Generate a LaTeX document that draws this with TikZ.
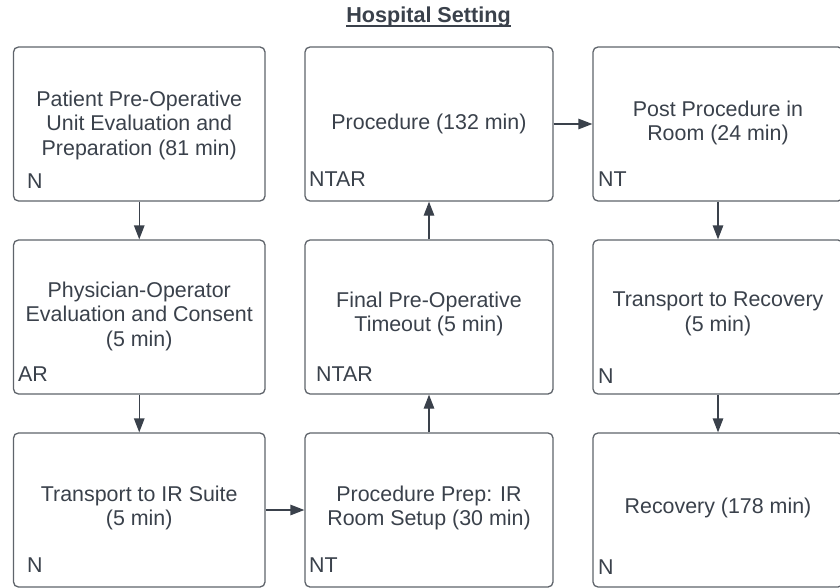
\documentclass[tikz,border=0pt]{standalone}
\usepackage{fontspec}
\setmainfont{Liberation Sans}
\usetikzlibrary{arrows.meta}
\definecolor{ink}{HTML}{3A414B}
\definecolor{edge}{HTML}{5F646B}
\begin{document}
\begin{tikzpicture}[x=1pt,y=-1pt,
  stage/.style={draw=edge, line width=1.3pt, rounded corners=5pt},
  body/.style={text=ink, align=center, font=\fontsize{21.4}{24.5}\selectfont, inner sep=0pt},
  tag/.style={text=ink, anchor=base west, font=\fontsize{21.4}{24.5}\selectfont, inner sep=0pt},
  flow/.style={draw=ink, line width=1.3pt, -{Triangle[length=14pt,width=10.5pt]}}]
\useasboundingbox (0,0) rectangle (840,588);
\fill[white] (0,0) rectangle (840,588);

% title, underlined with a slightly heavier rule
\node[text=ink, font=\bfseries\fontsize{21.6}{24}\selectfont, anchor=base, inner sep=0pt] (title) at (428.5,23) {Hospital Setting};
\draw[ink, line width=1.6pt] ([yshift=-3pt]title.base west) -- ([yshift=-3pt]title.base east);

% boxes: columns at x = 13.5..265, 305..553, 593..843; rows at y = 47..201, 240..394, 433..587
\node[stage, minimum width=251.5pt, minimum height=154pt, inner sep=0pt] (b11) at (139.25,124) {};
\node[stage, minimum width=248pt, minimum height=154pt, inner sep=0pt] (b12) at (429,124) {};
\node[stage, minimum width=250pt, minimum height=154pt, inner sep=0pt] (b13) at (718,124) {};
\node[stage, minimum width=251.5pt, minimum height=154pt, inner sep=0pt] (b21) at (139.25,317) {};
\node[stage, minimum width=248pt, minimum height=154pt, inner sep=0pt] (b22) at (429,317) {};
\node[stage, minimum width=250pt, minimum height=154pt, inner sep=0pt] (b23) at (718,317) {};
\node[stage, minimum width=251.5pt, minimum height=154pt, inner sep=0pt] (b31) at (139.25,510) {};
\node[stage, minimum width=248pt, minimum height=154pt, inner sep=0pt] (b32) at (429,510) {};
\node[stage, minimum width=250pt, minimum height=154pt, inner sep=0pt] (b33) at (718,510) {};

% box texts
\node[body] (t11) at (139.25,125) {Patient Pre-Operative\\Unit Evaluation and\\Preparation (81 min)};
\node[body] (t12) at (429,124) {Procedure (132 min)};
\node[body] (t13) at (718,123) {Post Procedure in\\Room (24 min)};
\node[body] (t21) at (139.25,316) {Physician-Operator\\Evaluation and Consent\\(5 min)};
\node[body] (t22) at (429,314) {Final Pre-Operative\\Timeout (5 min)};
\node[body] (t23) at (718,314) {Transport to Recovery\\(5 min)};
\node[body] (t31) at (139.25,508) {Transport to IR Suite\\(5 min)};
\node[body] (t32) at (429,508) {Procedure Prep: IR\\Room Setup (30 min)};
\node[body] (t33) at (718,508) {Recovery (178 min)};

% staffing tags
\node[tag] (g11) at (27,188.5) {N};
\node[tag] (g12) at (309,186.5) {NTAR};
\node[tag] (g13) at (598,186) {NT};
\node[tag] (g21) at (18,381) {AR};
\node[tag] (g22) at (316,381.5) {NTAR};
\node[tag] (g23) at (598,383.5) {N};
\node[tag] (g31) at (27,572.5) {N};
\node[tag] (g32) at (309,572.5) {NT};
\node[tag] (g33) at (598,574.5) {N};

% flow
\draw[flow] (b11.south) -- (b21.north);
\draw[flow] (b21.south) -- (b31.north);
\draw[flow] (b31.east) -- (b32.west);
\draw[flow] (b32.north) -- (b22.south);
\draw[flow] (b22.north) -- (b12.south);
\draw[flow] (b12.east) -- (b13.west);
\draw[flow] (b13.south) -- (b23.north);
\draw[flow] (b23.south) -- (b33.north);
\end{tikzpicture}
\end{document}
